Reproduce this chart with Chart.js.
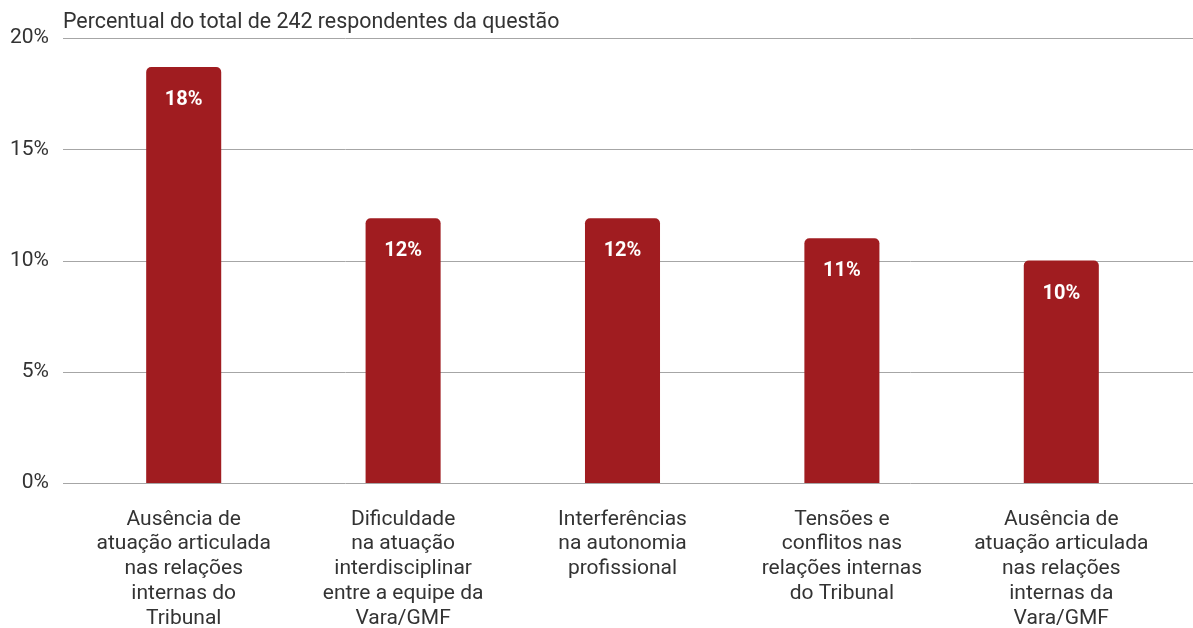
<!DOCTYPE html>
<html>
<head>
<meta charset="utf-8">
<script src="https://cdn.jsdelivr.net/npm/chart.js@4/dist/chart.umd.min.js"></script>
<style>
    html, body { margin: 0; padding: 0; background: #fff; }
    #wrap { width: 1193px; height: 628px; }
</style>
</head>
<body>
<div id="wrap"><canvas id="chart"></canvas></div>
<script>
const categories = [
    ["Ausência de", "atuação articulada", "nas relações", "internas do", "Tribunal"],
    ["Dificuldade", "na atuação", "interdisciplinar", "entre a equipe da", "Vara/GMF"],
    ["Interferências", "na autonomia", "profissional"],
    ["Tensões e", "conflitos nas", "relações internas", "do Tribunal"],
    ["Ausência de", "atuação articulada", "nas relações", "internas da", "Vara/GMF"],
];
const values = [18.7, 11.9, 11.9, 11.0, 10.0];
const valueLabels = ["18%", "12%", "12%", "11%", "10%"];
const yTicks = [0, 5, 10, 15, 20];
const title = "Percentual do total de 242 respondentes da questão";

const FONT = "Roboto, 'Noto Sans', sans-serif";
const TEXT = "#333333";
const BAR = "#A01C20";
const GRID = "#A6A6A6";
const GRID_LEFT = 63;

// grid lines reach past the plot area on both sides, so draw them here
const gridPlugin = {
    id: "wideGrid",
    beforeDatasetsDraw(chart) {
        const ctx = chart.ctx;
        const y = chart.scales.y;
        ctx.save();
        ctx.strokeStyle = GRID;
        ctx.lineWidth = 1;
        for (const t of yTicks) {
            const py = Math.round(y.getPixelForValue(t)) + 0.5;
            ctx.beginPath();
            ctx.moveTo(GRID_LEFT, py);
            ctx.lineTo(chart.width, py);
            ctx.stroke();
        }
        ctx.restore();
    },
};

const labelPlugin = {
    id: "labels",
    afterDatasetsDraw(chart) {
        const ctx = chart.ctx;
        const meta = chart.getDatasetMeta(0);
        ctx.save();
        ctx.fillStyle = "#ffffff";
        ctx.font = "bold 20px " + FONT;
        ctx.textAlign = "center";
        ctx.textBaseline = "middle";
        meta.data.forEach((bar, i) => {
            ctx.fillText(valueLabels[i], bar.x, bar.y + 33);
        });
        // title above the plot
        ctx.fillStyle = TEXT;
        ctx.font = "21.4px " + FONT;
        ctx.textAlign = "left";
        ctx.textBaseline = "middle";
        ctx.fillText(title, GRID_LEFT, 23);
        ctx.restore();
    },
};

const ctx = document.getElementById("chart").getContext("2d");
const chart = new Chart(ctx, {
    type: "bar",
    data: {
        labels: categories,
        datasets: [
            {
                data: values,
                backgroundColor: BAR,
                borderRadius: { topLeft: 5, topRight: 5 },
                borderSkipped: "bottom",
                barPercentage: 0.342,
                categoryPercentage: 1,
            },
        ],
    },
    options: {
        responsive: true,
        maintainAspectRatio: false,
        animation: false,
        events: [],
        layout: { padding: { top: 38, right: 22, left: 0, bottom: 0 } },
        plugins: {
            legend: { display: false },
            tooltip: { enabled: false },
            title: { display: false },
        },
        scales: {
            x: {
                afterFit: (scale) => { scale.height = 145; },
                grid: { display: false, drawTicks: false },
                border: { display: false },
                ticks: {
                    color: TEXT,
                    font: { family: FONT, size: 21, lineHeight: 1.18 },
                    padding: 24,
                    maxRotation: 0,
                    autoSkip: false,
                },
            },
            y: {
                min: 0,
                max: 20,
                afterFit: (scale) => { scale.width = 74; },
                afterBuildTicks: (scale) => {
                    scale.ticks = yTicks.map((v) => ({ value: v }));
                },
                grid: { display: false, drawTicks: false },
                border: { display: false },
                ticks: {
                    color: TEXT,
                    font: { family: FONT, size: 21 },
                    padding: 25,
                    callback: (v) => v + "%",
                },
            },
        },
    },
    plugins: [gridPlugin, labelPlugin],
});
</script>
</body>
</html>
